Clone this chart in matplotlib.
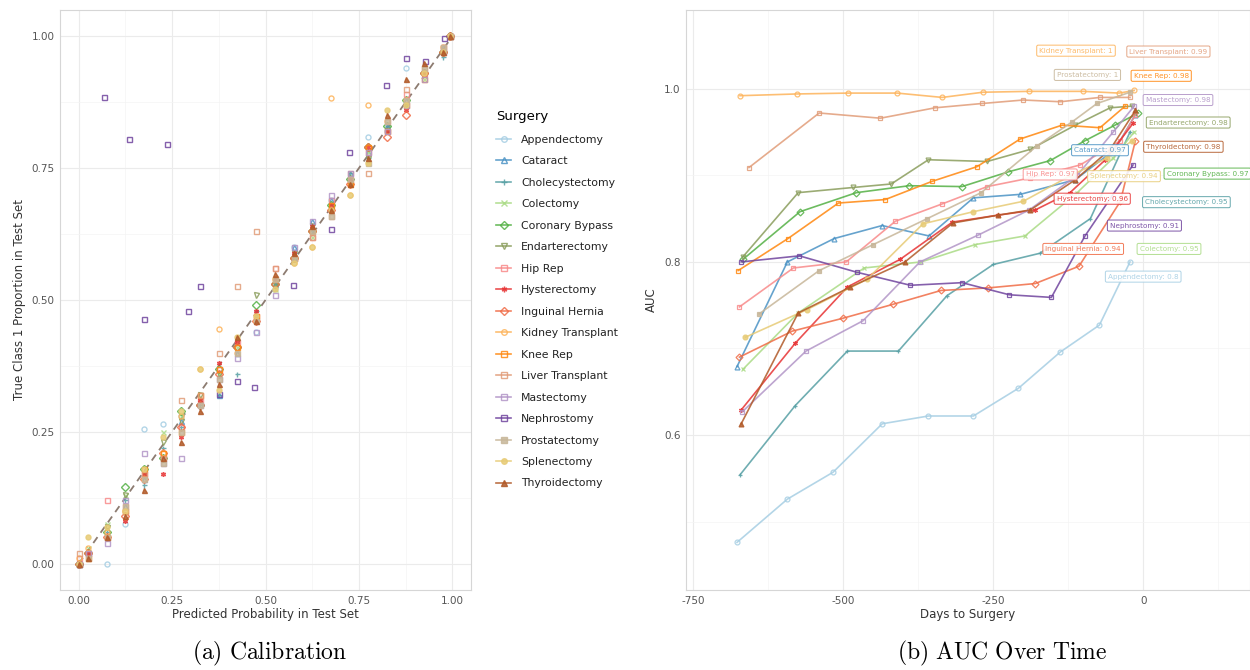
import numpy as np
import matplotlib.pyplot as plt
from matplotlib.lines import Line2D

plt.rcParams['font.family'] = ['DejaVu Sans']
plt.rcParams['axes.unicode_minus'] = False
plt.rcParams['mathtext.fontset'] = 'cm'

surgeries = ['Appendectomy', 'Cataract', 'Cholecystectomy', 'Colectomy', 'Coronary Bypass',
             'Endarterectomy', 'Hip Rep', 'Hysterectomy', 'Inguinal Hernia', 'Kidney Transplant',
             'Knee Rep', 'Liver Transplant', 'Mastectomy', 'Nephrostomy', 'Prostatectomy',
             'Splenectomy', 'Thyroidectomy']

# ---- calibration data (left panel) ----
cal_bins = [0.0, 0.025, 0.075, 0.125, 0.175, 0.225, 0.275, 0.325, 0.375, 0.425, 0.475,
            0.525, 0.575, 0.625, 0.675, 0.725, 0.775, 0.825, 0.875, 0.925, 0.975, 0.995]
cal_appendectomy = [0.0, 0.02, 0.0, 0.075, 0.255, 0.265, 0.28, 0.30, 0.37, 0.41, 0.44,
                    0.52, 0.60, 0.63, 0.69, 0.73, 0.81, 0.82, 0.94, 0.93, 0.97, 1.0]
cal_cataract = [0.0, 0.02, 0.05, 0.11, 0.16, 0.20, 0.27, 0.31, 0.32, 0.40, 0.47,
                0.53, 0.60, 0.65, 0.69, 0.74, 0.78, 0.83, 0.88, 0.93, 0.98, 1.0]
cal_cholecystectomy = [0.0, 0.02, 0.06, 0.12, 0.15, 0.22, 0.26, 0.30, 0.32, 0.36, 0.48,
                       0.53, 0.59, 0.63, 0.68, 0.74, 0.77, 0.83, 0.87, 0.93, 0.96, 1.0]
cal_colectomy = [0.0, 0.03, 0.075, 0.13, 0.17, 0.25, 0.28, 0.31, 0.36, 0.41, 0.47,
                 0.52, 0.58, 0.62, 0.68, 0.73, 0.78, 0.82, 0.87, 0.92, 0.97, 1.0]
cal_coronary = [0.0, 0.02, 0.06, 0.145, 0.18, 0.20, 0.29, 0.30, 0.37, 0.41, 0.49,
                0.53, 0.58, 0.63, 0.68, 0.73, 0.79, 0.83, 0.88, 0.93, 0.97, 1.0]
cal_endarterectomy = [0.0, 0.02, 0.07, 0.13, 0.17, 0.23, 0.27, 0.32, 0.36, 0.42, 0.51,
                      0.53, 0.59, 0.64, 0.67, 0.72, 0.77, 0.82, 0.87, 0.93, 0.97, 1.0]
cal_hip = [0.01, 0.02, 0.12, 0.11, 0.17, 0.20, 0.26, 0.31, 0.37, 0.42, 0.47,
           0.56, 0.58, 0.62, 0.69, 0.73, 0.78, 0.84, 0.89, 0.93, 0.98, 1.0]
cal_hysterectomy = [0.0, 0.02, 0.05, 0.08, 0.17, 0.17, 0.24, 0.31, 0.38, 0.42, 0.48,
                    0.54, 0.59, 0.64, 0.68, 0.73, 0.79, 0.82, 0.86, 0.93, 0.97, 1.0]
cal_inguinal = [0.0, 0.02, 0.05, 0.09, 0.16, 0.21, 0.26, 0.30, 0.36, 0.41, 0.46,
                0.53, 0.58, 0.63, 0.67, 0.72, 0.79, 0.81, 0.85, 0.93, 0.97, 1.0]
cal_kidney = [0.01, 0.03, 0.06, 0.10, 0.16, 0.21, 0.28, 0.37, 0.445, 0.40, 0.46,
              0.54, 0.57, 0.60, 0.883, 0.70, 0.87, 0.84, 0.88, 0.93, 0.98, 1.0]
cal_knee = [0.0, 0.01, 0.05, 0.10, 0.18, 0.21, 0.25, 0.32, 0.37, 0.41, 0.47,
            0.54, 0.58, 0.63, 0.68, 0.72, 0.79, 0.82, 0.87, 0.92, 0.97, 1.0]
cal_liver = [0.02, 0.02, 0.05, 0.10, 0.17, 0.20, 0.31, 0.32, 0.40, 0.527, 0.63,
             0.56, 0.58, 0.62, 0.66, 0.74, 0.74, 0.82, 0.90, 0.94, 0.98, 1.0]
cal_mastectomy = [0.0, 0.02, 0.04, 0.12, 0.21, 0.19, 0.20, 0.30, 0.35, 0.39, 0.44,
                  0.51, 0.60, 0.65, 0.70, 0.74, 0.78, 0.82, 0.87, 0.92, 0.97, 1.0]
cal_prostatectomy = [0.0, 0.01, 0.05, 0.11, 0.16, 0.19, 0.25, 0.30, 0.35, 0.40, 0.46,
                     0.54, 0.58, 0.63, 0.66, 0.73, 0.76, 0.84, 0.88, 0.94, 0.98, 1.0]
cal_splenectomy = [0.0, 0.05, 0.07, 0.10, 0.18, 0.24, 0.29, 0.37, 0.33, 0.43, 0.47,
                   0.52, 0.57, 0.60, 0.67, 0.70, 0.76, 0.86, 0.87, 0.93, 0.97, 1.0]
cal_thyroidectomy = [0.0, 0.01, 0.05, 0.09, 0.14, 0.20, 0.23, 0.29, 0.34, 0.43, 0.46,
                     0.55, 0.59, 0.64, 0.67, 0.72, 0.77, 0.85, 0.92, 0.95, 0.97, 1.0]
# nephrostomy has its own bins
cal_nephro_x = [0.0, 0.069, 0.136, 0.174, 0.236, 0.292, 0.324, 0.375, 0.425, 0.47,
                0.573, 0.675, 0.723, 0.823, 0.875, 0.928, 0.977]
cal_nephro_y = [0.0, 0.885, 0.805, 0.464, 0.796, 0.479, 0.527, 0.322, 0.347, 0.335,
                0.528, 0.634, 0.78, 0.907, 0.958, 0.954, 0.996]

cal_y = {'Appendectomy': cal_appendectomy, 'Cataract': cal_cataract,
         'Cholecystectomy': cal_cholecystectomy, 'Colectomy': cal_colectomy,
         'Coronary Bypass': cal_coronary, 'Endarterectomy': cal_endarterectomy,
         'Hip Rep': cal_hip, 'Hysterectomy': cal_hysterectomy, 'Inguinal Hernia': cal_inguinal,
         'Kidney Transplant': cal_kidney, 'Knee Rep': cal_knee, 'Liver Transplant': cal_liver,
         'Mastectomy': cal_mastectomy, 'Prostatectomy': cal_prostatectomy,
         'Splenectomy': cal_splenectomy, 'Thyroidectomy': cal_thyroidectomy}

# ---- AUC over time (right panel) ----
auc_days = {
    'Appendectomy': [-677, -593, -517, -435, -358, -283, -208, -138, -73, -22],
    'Cataract': [-677, -593, -515, -435, -357, -283, -205, -113, -47, -13],
    'Cholecystectomy': [-672, -580, -493, -408, -327, -250, -172, -88, -22],
    'Colectomy': [-667, -575, -465, -370, -280, -197, -110, -50, -15],
    'Coronary Bypass': [-667, -572, -478, -390, -302, -225, -155, -97, -47, -8],
    'Endarterectomy': [-667, -575, -483, -420, -358, -260, -188, -113, -55, -18],
    'Hip Rep': [-673, -583, -495, -413, -335, -260, -188, -105, -38, -13],
    'Hysterectomy': [-670, -580, -493, -405, -318, -242, -180, -122, -63, -17],
    'Inguinal Hernia': [-673, -585, -500, -417, -337, -258, -180, -107, -38, -13],
    'Kidney Transplant': [-672, -577, -492, -410, -335, -267, -190, -100, -40, -15],
    'Knee Rep': [-675, -592, -508, -430, -352, -277, -205, -135, -72, -30],
    'Liver Transplant': [-657, -540, -438, -347, -268, -200, -138, -72, -22],
    'Mastectomy': [-668, -562, -467, -372, -275, -190, -110, -50, -15],
    'Nephrostomy': [-670, -573, -477, -388, -302, -223, -153, -97, -17],
    'Prostatectomy': [-640, -540, -450, -360, -270, -177, -118, -77, -22],
    'Splenectomy': [-663, -560, -460, -367, -283, -200, -120, -60, -18],
    'Thyroidectomy': [-670, -575, -488, -397, -317, -242, -188, -113, -55, -13],
}
auc_vals = {
    'Appendectomy': [0.476, 0.526, 0.557, 0.613, 0.622, 0.622, 0.654, 0.696, 0.727, 0.80],
    'Cataract': [0.679, 0.80, 0.827, 0.842, 0.83, 0.874, 0.878, 0.895, 0.93, 0.97],
    'Cholecystectomy': [0.554, 0.634, 0.697, 0.697, 0.761, 0.797, 0.81, 0.85, 0.95],
    'Colectomy': [0.676, 0.741, 0.793, 0.80, 0.82, 0.83, 0.88, 0.92, 0.95],
    'Coronary Bypass': [0.803, 0.858, 0.88, 0.888, 0.887, 0.904, 0.917, 0.94, 0.958, 0.972],
    'Endarterectomy': [0.806, 0.88, 0.886, 0.89, 0.918, 0.916, 0.93, 0.958, 0.978, 0.98],
    'Hip Rep': [0.748, 0.793, 0.80, 0.847, 0.867, 0.887, 0.897, 0.912, 0.94, 0.97],
    'Hysterectomy': [0.629, 0.706, 0.771, 0.803, 0.846, 0.854, 0.86, 0.88, 0.918, 0.96],
    'Inguinal Hernia': [0.69, 0.72, 0.735, 0.751, 0.767, 0.77, 0.775, 0.795, 0.87, 0.94],
    'Kidney Transplant': [0.992, 0.994, 0.995, 0.995, 0.990, 0.996, 0.997, 0.997, 0.995, 0.998],
    'Knee Rep': [0.79, 0.827, 0.868, 0.872, 0.893, 0.91, 0.942, 0.958, 0.955, 0.98],
    'Liver Transplant': [0.909, 0.972, 0.966, 0.978, 0.983, 0.987, 0.985, 0.99, 0.99],
    'Mastectomy': [0.627, 0.697, 0.732, 0.80, 0.831, 0.86, 0.90, 0.95, 0.98],
    'Nephrostomy': [0.80, 0.807, 0.788, 0.773, 0.776, 0.762, 0.759, 0.83, 0.912],
    'Prostatectomy': [0.74, 0.79, 0.82, 0.85, 0.88, 0.934, 0.962, 0.983, 0.996],
    'Splenectomy': [0.713, 0.745, 0.78, 0.844, 0.858, 0.87, 0.90, 0.92, 0.94],
    'Thyroidectomy': [0.613, 0.741, 0.771, 0.80, 0.845, 0.854, 0.86, 0.895, 0.93, 0.975],
}
final_auc = ['0.8', '0.97', '0.95', '0.95', '0.97', '0.98', '0.97', '0.96', '0.94', '1',
             '0.98', '0.99', '0.98', '0.91', '1', '0.94', '0.98']
# repelled label positions (data coords)
label_x = [0, -72, 72, 43, 107, 75, -155, -85, -100, -112, 30, 42, 58, 2, -93, -32, 67]
label_y = [0.783, 0.929, 0.869, 0.815, 0.902, 0.961, 0.901, 0.873, 0.815, 1.044,
           1.015, 1.043, 0.987, 0.842, 1.016, 0.899, 0.933]

colors = ['#a6cee3', '#4b93c5', '#569fa4', '#aadb85', '#53b044', '#8a9d5c', '#f88a8a',
          '#e73233', '#f06c46', '#fdb35a', '#ff870e', '#e19c78', '#b295c7', '#70449e',
          '#c7b699', '#e7cb76', '#b15928']
markers = ['o', '^', '+', 'x', 'D', 'v', 's', (6, 2, 0), 'D', 'o', 's', 's', 's', 's',
           's', 'o', '^']
filled = [False] * 14 + [True] * 3

fig = plt.figure(figsize=(12.5, 6.7), dpi=100)

def style_ax(ax):
    ax.set_facecolor('white')
    ax.grid(which='major', color='#ebebeb', lw=0.8)
    ax.grid(which='minor', color='#f4f4f4', lw=0.5)
    ax.set_axisbelow(True)
    for s in ax.spines.values():
        s.set_color('#d6d6d6')
        s.set_linewidth(0.8)
    ax.tick_params(which='both', length=0, labelsize=7.5, labelcolor='#555555', pad=4)

# left panel
ax1 = fig.add_axes([0.048, 0.1194, 0.3288, 0.8657])
style_ax(ax1)
ax1.plot([0, 1], [0, 1], ls=(0, (4, 3)), color='#8c7b70', lw=1.3, zorder=3)
for i, name in enumerate(surgeries):
    if name == 'Nephrostomy':
        xs, ys = cal_nephro_x, cal_nephro_y
    else:
        xs, ys = cal_bins, cal_y[name]
    fc = colors[i] if filled[i] else 'none'
    ax1.plot(xs, ys, ls='none', marker=markers[i], ms=3.6, mew=1.0, color=colors[i],
             mfc=fc, alpha=0.85, zorder=4)
ax1.set_xlim(-0.05, 1.05)
ax1.set_ylim(-0.05, 1.05)
ax1.set_xticks([0, 0.25, 0.5, 0.75, 1.0])
ax1.set_yticks([0, 0.25, 0.5, 0.75, 1.0])
ax1.set_xticks([0.125, 0.375, 0.625, 0.875], minor=True)
ax1.set_yticks([0.125, 0.375, 0.625, 0.875], minor=True)
ax1.set_xticklabels(['0.00', '0.25', '0.50', '0.75', '1.00'])
ax1.set_yticklabels(['0.00', '0.25', '0.50', '0.75', '1.00'])
ax1.set_xlabel('Predicted Probability in Test Set', fontsize=8.5, color='#333333', labelpad=2)
ax1.set_ylabel('True Class 1 Proportion in Test Set', fontsize=8.5, color='#333333', labelpad=4)

# right panel
ax2 = fig.add_axes([0.5488, 0.1194, 0.4512, 0.8657])
style_ax(ax2)
for i, name in enumerate(surgeries):
    fc = colors[i] if filled[i] else 'none'
    ax2.plot(auc_days[name], auc_vals[name], color=colors[i], lw=1.2, marker=markers[i],
             ms=3.5, mew=0.9, mfc=fc, alpha=0.85, zorder=3)
    ax2.text(label_x[i], label_y[i], f'{name}: {final_auc[i]}', fontsize=5.2,
             color=colors[i], alpha=0.9, ha='center', va='center', zorder=5,
             bbox=dict(boxstyle='round,pad=0.35,rounding_size=0.2', fc='white',
                       ec=colors[i], lw=0.7, alpha=0.9))
ax2.set_xlim(-762, 178)
ax2.set_ylim(0.421, 1.091)
ax2.set_xticks([-750, -500, -250, 0])
ax2.set_xticks([-625, -375, -125, 125], minor=True)
ax2.set_yticks([0.6, 0.8, 1.0])
ax2.set_yticks([0.5, 0.7, 0.9], minor=True)
ax2.set_yticklabels(['0.6', '0.8', '1.0'])
ax2.set_xlabel('Days to Surgery', fontsize=8.5, color='#333333', labelpad=2)
ax2.set_ylabel('AUC', fontsize=8.5, color='#333333', labelpad=4)

# legend between panels
handles = []
for i, name in enumerate(surgeries):
    fc = colors[i] if filled[i] else 'none'
    handles.append(Line2D([], [], color=colors[i], lw=1.2, marker=markers[i], ms=4,
                          mew=1.0, mfc=fc, alpha=0.85))
leg = fig.legend(handles, surgeries, loc='upper left', bbox_to_anchor=(0.389, 0.85),
                 frameon=False, title='Surgery', fontsize=7.8, title_fontsize=9.5,
                 labelspacing=1.06, handlelength=1.4, handletextpad=0.9,
                 alignment='left')
for t in leg.get_texts():
    t.set_color('#222222')

# sub-captions
fig.text(0.216, 0.016, r'$\mathrm{(a)\ Calibration}$', fontsize=17, ha='center')
fig.text(0.802, 0.016, r'$\mathrm{(b)\ AUC\ Over\ Time}$', fontsize=17, ha='center')

fig.savefig('out.png', dpi=100)
